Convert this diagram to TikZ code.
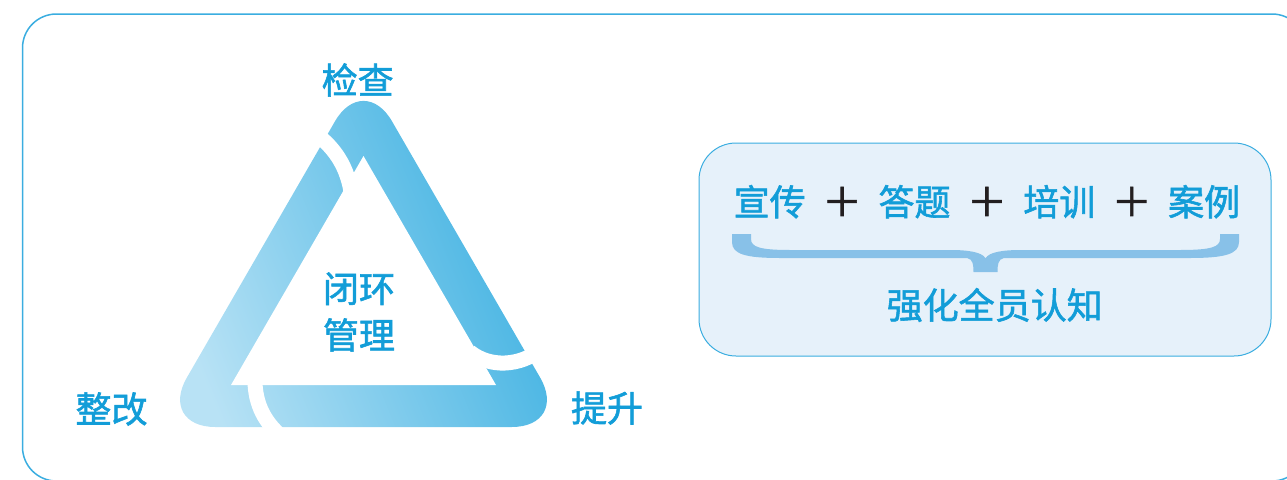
\documentclass[tikz,border=0pt]{standalone}
\usepackage{fontspec}
\newfontfamily\cjk{Noto Sans CJK SC}[FakeBold=1.6]
\usepackage{tikz}
\usetikzlibrary{positioning}
\usepackage{xcolor}
\definecolor{edgeblue}  {HTML}{3AADE0}
\definecolor{textblue}  {HTML}{129DD8}
\definecolor{plusblack} {HTML}{231F20}
\definecolor{panelfill} {HTML}{E6F1FA}
\definecolor{bracefill} {HTML}{88C1E8}
\definecolor{bandlight} {HTML}{B8E2F5}
\definecolor{banddark}  {HTML}{34ADE0}

\begin{document}
\begin{tikzpicture}[x=1pt, y=-1pt, node distance=18pt,
    word/.style={text=textblue, inner sep=0pt,
      font=\cjk\fontsize{36}{46.5}\selectfont},
    plussign/.style={text=plusblack, inner sep=0pt,
      font=\cjk\fontsize{40}{40}\selectfont},
    gap/.style={white, line width=15pt}]
  \clip (0,0) rectangle (1287,479);
  % outer frame
  \draw[edgeblue, line width=1.5pt, rounded corners=34pt] (22.5,14) rectangle (1306,481);

  % closed-loop triangle
  \shade[left color=bandlight, right color=banddark, shading angle=112,
    rounded corners=57pt] (363.5,72) -- (568.7,427) -- (158.3,427) -- cycle;
  \fill[white] (363.5,156) -- (496,385) -- (231,385) -- cycle;
  \draw[gap] (312,131) .. controls (332,145) and (349,165) .. (352,200);
  \draw[gap] (470,352) .. controls (490,368) and (520,366) .. (540,350);
  \draw[gap] (255,375) .. controls (254,400) and (262,420) .. (282,437);

  \node[word] (check) at (357.7,80) {检查};
  \node[word] (raise) at (607,408) {提升};
  \node[word] (fix) at (111.5,409) {整改};
  \node[word, align=center] (loop) at (359,312) {闭环\\管理};

  % awareness panel
  \draw[edgeblue, fill=panelfill, line width=1pt, rounded corners=37pt]
    (699,143) rectangle (1271,356);
  \node[word] (promo) at (769.7,201.7) {宣传};
  \node[plussign, right=16pt of promo] (p1) {＋};
  \node[word, right=16pt of p1] (quiz) {答题};
  \node[plussign, right=16pt of quiz] (p2) {＋};
  \node[word, right=16pt of p2] (train) {培训};
  \node[plussign, right=16pt of train] (p3) {＋};
  \node[word, right=16pt of p3] (case) {案例};
  \fill[bracefill] (732,234) -- (751,234) -- (751,239)
    .. controls (751,247) and (760,250) .. (790,250) -- (950,250)
    .. controls (968,250) and (982,252) .. (985.5,258.3)
    .. controls (989,252) and (1003,250) .. (1021,250) -- (1180,250)
    .. controls (1211,250) and (1220,247) .. (1220,239) -- (1220,234)
    -- (1239,234) -- (1239,242)
    .. controls (1239,254) and (1225,258) .. (1190,258) -- (1004,258)
    .. controls (998,259) and (997.5,265) .. (997.5,272) -- (973.5,272)
    .. controls (973.5,265) and (973,259) .. (967,258) -- (780,258)
    .. controls (745,258) and (732,254) .. (732,242) -- cycle;
  \node[word] (aware) at (994.7,305) {强化全员认知};
\end{tikzpicture}
\end{document}
